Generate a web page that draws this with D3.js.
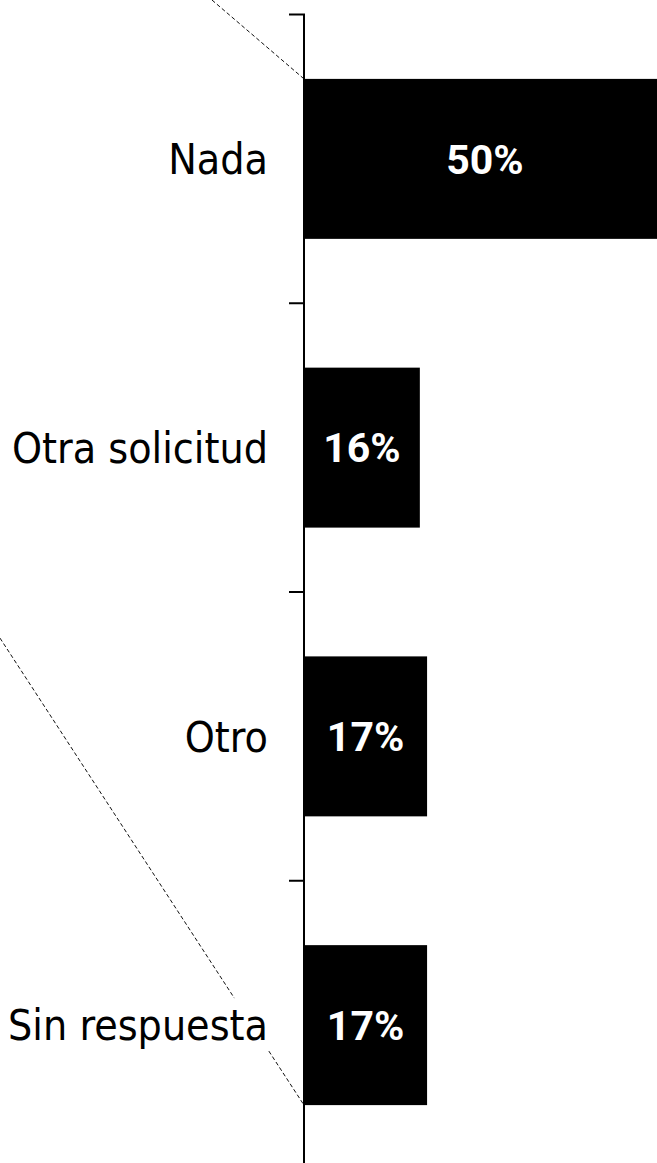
<!DOCTYPE html>
<html><head><meta charset="utf-8">
<script src="https://cdn.jsdelivr.net/npm/d3@7"></script>
<style>html,body{margin:0;padding:0;background:#fff;overflow:hidden}</style>
</head><body>
<script>
const categories = ["Nada", "Otra solicitud", "Otro", "Sin respuesta"];
const values = [50, 16, 17, 17];
const valueLabels = ["50%", "16%", "17%", "17%"];

const W = 657, H = 1163;
const svg = d3.select("body").append("svg").attr("width", W).attr("height", H);

const axisX = 304;
const y = d3.scaleBand().domain(categories).range([14.5, 1169.5]).paddingInner(0.446).paddingOuter(0.223);
const x = d3.scaleLinear().domain([0, 50]).range([axisX, axisX + 362]);

const data = categories.map((c, i) => ({c, v: values[i], lab: valueLabels[i]}));

// dashed connector lines
const gapPad = (y.step() - y.bandwidth()) / 2;
const first = categories[0], last = categories[categories.length - 1];
const tl = [x(0), y(first)];
const bl = [x(0), y(last) + y.bandwidth()];
const dash = {stroke: "#111", "stroke-width": 1, "stroke-dasharray": "4,2.5"};
function dline(p, q) {
  const l = svg.append("line").attr("x1", p[0]).attr("y1", p[1]).attr("x2", q[0]).attr("y2", q[1]);
  Object.entries(dash).forEach(([k, v]) => l.attr(k, v));
}
const s1 = 78 / 91; // slope of top connector
dline([tl[0] - tl[1] / s1, 0], tl);
const s2 = 467 / 304;
const pA = [bl[0] - 304, bl[1] - 467];
const gapTop = bl[1] - 107, gapBot = bl[1] - 54;
dline(pA, [bl[0] - (bl[1] - gapTop) / s2, gapTop]);
dline([bl[0] - (bl[1] - gapBot) / s2, gapBot], bl);

// bars
svg.selectAll("rect.bar").data(data).join("rect").attr("class", "bar")
  .attr("x", x(0)).attr("y", d => y(d.c))
  .attr("width", d => x(d.v) - x(0)).attr("height", y.bandwidth())
  .attr("fill", "#000");

// axis line + ticks at band boundaries
const bounds = categories.map(c => y(c) - gapPad);
svg.append("line").attr("x1", axisX).attr("x2", axisX)
  .attr("y1", bounds[0]).attr("y2", H + 10).attr("stroke", "#000").attr("stroke-width", 2);
svg.selectAll("line.tick").data(bounds).join("line").attr("class", "tick")
  .attr("x1", axisX - 15).attr("x2", axisX + 1).attr("y1", d => d).attr("y2", d => d)
  .attr("stroke", "#000").attr("stroke-width", 2);

// category labels
svg.selectAll("text.cat").data(data).join("text").attr("class", "cat")
  .attr("x", axisX - 36).attr("y", d => y(d.c) + y.bandwidth() / 2)
  .attr("dy", "0.36em").attr("text-anchor", "end")
  .attr("font-family", "'DejaVu Sans Condensed', 'DejaVu Sans', sans-serif")
  .attr("font-size", 42.5).attr("fill", "#000").text(d => d.c);

// value labels (centered in bar, clipped to view)
svg.selectAll("text.val").data(data).join("text").attr("class", "val")
  .attr("x", d => (x(0) + x(d.v)) / 2).attr("y", d => y(d.c) + y.bandwidth() / 2)
  .attr("dy", "0.36em").attr("text-anchor", "middle")
  .attr("font-family", "Roboto, 'DejaVu Sans', sans-serif").attr("font-weight", "bold")
  .attr("font-size", 41).attr("fill", "#fff").text(d => d.lab);
</script>
</body></html>
